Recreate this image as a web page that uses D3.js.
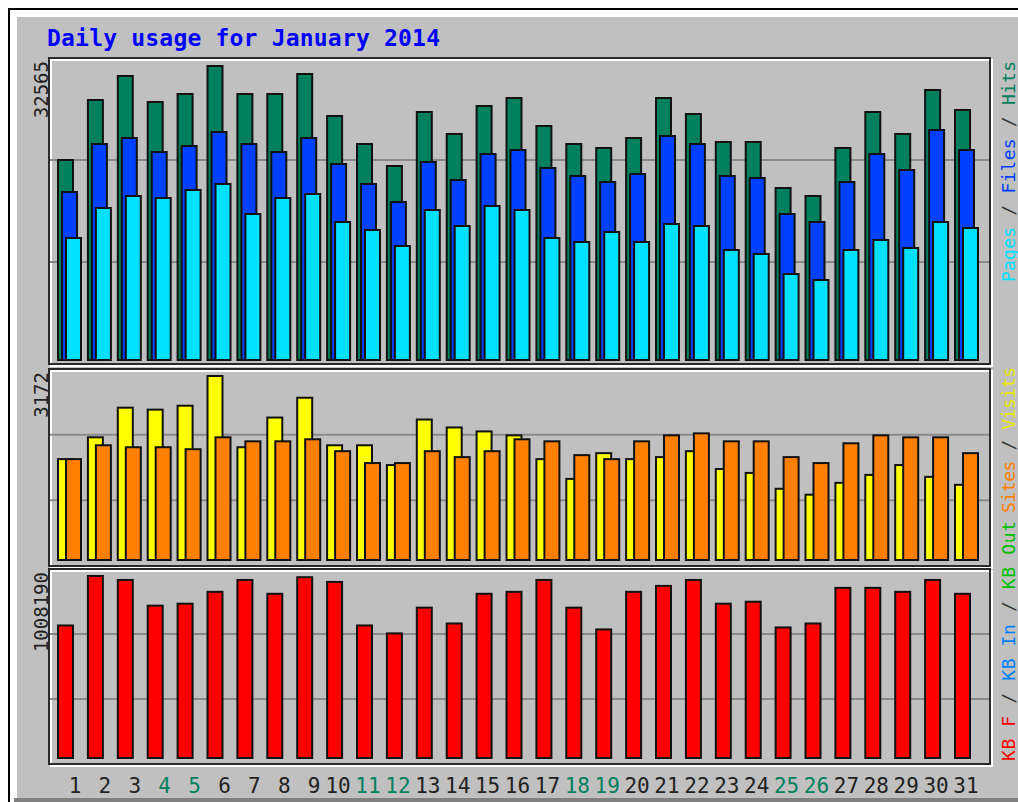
<!DOCTYPE html>
<html>
<head>
<meta charset="utf-8">
<script src="https://cdn.jsdelivr.net/npm/d3@7"></script>
<style>
  body { margin: 0; background: #fff; }
  text { font-family: 'DejaVu Sans Mono', 'Liberation Mono', monospace; }
</style>
</head>
<body>
<svg id="chart" width="1018" height="802"></svg>
<script>

// Daily usage data, January 2014
const days = [1,2,3,4,5,6,7,8,9,10,11,12,13,14,15,16,17,18,19,20,21,22,23,24,25,26,27,28,29,30,31];
const weekendDays = [4,5,11,12,18,19,25,26];

const hits  = [22153,28799,31458,28578,29464,32565,29464,29464,31680,27027,23926,21489,27470,25034,28135,29021,
               25920,23926,23483,24590,29021,27249,24147,24147,19052,18166,23483,27470,25034,29908,27693];
const files = [18609,23926,24591,23040,23705,25256,23926,23040,24591,21711,19496,17502,21932,19939,22819,23262,
               21268,20382,19717,20603,24812,23926,20382,20160,16172,15286,19717,22819,21046,25477,23262];
const pages = [13514,16837,18166,17945,18831,19496,16172,17945,18388,15286,14400,12628,16616,14843,17059,16616,
               13514,13071,14179,13071,15065,14843,12185,11742,9526,8862,12185,13292,12406,15286,14622];

const visits = [1739,2115,2626,2592,2660,3172,1944,2456,2797,1978,1978,1637,2422,2285,2217,2149,
                1739,1398,1842,1739,1774,1876,1569,1501,1228,1126,1330,1467,1637,1433,1296];
const sites  = [1739,1978,1944,1944,1910,2115,2046,2046,2081,1876,1671,1671,1876,1774,1876,2081,
                2046,1808,1739,2046,2149,2183,2046,2046,1774,1671,2012,2149,2115,2115,1842];

const kbytes = [734226,1008190,986274,843812,854771,920523,986274,909564,1001400,975315,734226,690392,832853,745185,909564,920523,
                986274,832853,712309,920523,953399,986274,854771,865730,723268,745185,942440,942440,920523,986274,909564];

const title = 'Daily usage for January 2014';

// Display settings
const grey = '#c0c0c0';
const colorHits = '#00805c';
const colorFiles = '#0040ff';
const colorPages = '#00e0ff';
const colorVisits = '#ffff00';
const colorSites = '#ff8000';
const colorKB = '#ff0000';
const colorKBIn = '#0080ff';
const colorKBOut = '#00c000';
const barWidth = 15;

const svg = d3.select('#chart');

// Outer frame with bevel
svg.append('rect').attr('width', 1018).attr('height', 802).attr('fill', '#fff');
svg.append('rect').attr('x', 8).attr('y', 8).attr('width', 1030).attr('height', 800).attr('fill', '#000');
svg.append('rect').attr('x', 10).attr('y', 10).attr('width', 1030).attr('height', 800).attr('fill', '#fff');
svg.append('rect').attr('x', 17).attr('y', 17).attr('width', 1030).attr('height', 781).attr('fill', grey);
svg.append('rect').attr('x', 14).attr('y', 798).attr('width', 1030).attr('height', 10).attr('fill', '#808080');

// Title
svg.append('text')
  .attr('x', 47).attr('y', 46)
  .attr('fill', '#0000ff')
  .attr('textLength', 393)
  .style('font-size', '23px')
  .style('font-weight', 'bold')
  .text(title);

// Day positions
const x = d3.scaleBand()
  .domain(days)
  .range([58, 58 + 31 * 29.9])
  .paddingInner(0);

// Panel geometry
const panels = [
  { top: 58,  bottom: 364, base: 360, maxY: 66,  max: d3.max(hits) },
  { top: 369, bottom: 566, base: 560, maxY: 376, max: d3.max(visits.concat(sites)) },
  { top: 569, bottom: 764, base: 758, maxY: 576, max: d3.max(kbytes) }
];
const frameLeft = 49, frameRight = 990;

panels.forEach(p => {
  p.y = d3.scaleLinear().domain([0, p.max]).range([p.base, p.maxY]);

  // Etched frame
  svg.append('rect')
    .attr('x', frameLeft + 2).attr('y', p.top + 2)
    .attr('width', frameRight - frameLeft).attr('height', p.bottom - p.top)
    .attr('fill', 'none').attr('stroke', '#fff').attr('stroke-width', 2);
  svg.append('rect')
    .attr('x', frameLeft).attr('y', p.top)
    .attr('width', frameRight - frameLeft).attr('height', p.bottom - p.top)
    .attr('fill', 'none').attr('stroke', '#2a2a2a').attr('stroke-width', 2);

  // Grid lines at thirds of the panel
  const h = p.bottom - p.top;
  [1, 2].forEach(k => {
    svg.append('line')
      .attr('x1', frameLeft + 1).attr('x2', frameRight - 1)
      .attr('y1', p.top + h * k / 3).attr('y2', p.top + h * k / 3)
      .attr('stroke', '#8a8a8a').attr('stroke-width', 2);
  });

  // Max value label
  svg.append('text')
    .attr('transform', `translate(48,${p.top + 3}) rotate(-90)`)
    .attr('text-anchor', 'end')
    .attr('fill', '#222')
    .style('font-size', '19px')
    .text(p.max);
});

// Draw one series of bars
function drawBars(values, panel, offset, color) {
  svg.append('g')
    .selectAll('rect')
    .data(days)
    .join('rect')
      .attr('x', d => x(d) + offset)
      .attr('y', (d, i) => panel.y(values[i]))
      .attr('width', barWidth)
      .attr('height', (d, i) => panel.base - panel.y(values[i]))
      .attr('fill', color)
      .attr('stroke', '#111')
      .attr('stroke-width', 2);
}

drawBars(hits, panels[0], 0, colorHits);
drawBars(files, panels[0], 4, colorFiles);
drawBars(pages, panels[0], 8, colorPages);

drawBars(visits, panels[1], 0, colorVisits);
drawBars(sites, panels[1], 8, colorSites);

drawBars(kbytes, panels[2], 0, colorKB);

// Day labels
svg.append('g')
  .selectAll('text')
  .data(days)
  .join('text')
    .attr('x', d => x(d) + (d < 10 ? 17 : 11))
    .attr('y', 793)
    .attr('text-anchor', 'middle')
    .attr('fill', d => weekendDays.includes(d) ? colorHits : '#222')
    .style('font-size', '21px')
    .text(d => d);

// Legends along the right side
function legend(parts, y, anchor, len) {
  const t = svg.append('text')
    .attr('transform', `translate(1015,${y}) rotate(-90)`)
    .attr('text-anchor', anchor)
    .attr('textLength', len)
    .style('font-size', '18px');
  parts.forEach(p => {
    t.append('tspan').attr('fill', p[1]).text(p[0]);
  });
}

const sep = '#333';
legend([['Pages', colorPages], [' / ', sep], ['Files', colorFiles], [' / ', sep], ['Hits', colorHits]], 61, 'end', 221);
legend([['Sites', colorSites], [' / ', sep], ['Visits', '#e8e800']], 367, 'end', 146);
legend([['KB F', colorKB], [' / ', sep], ['KB In', colorKBIn], [' / ', sep], ['KB Out', colorKBOut]], 761, 'start', 240);

</script>
</body>
</html>
